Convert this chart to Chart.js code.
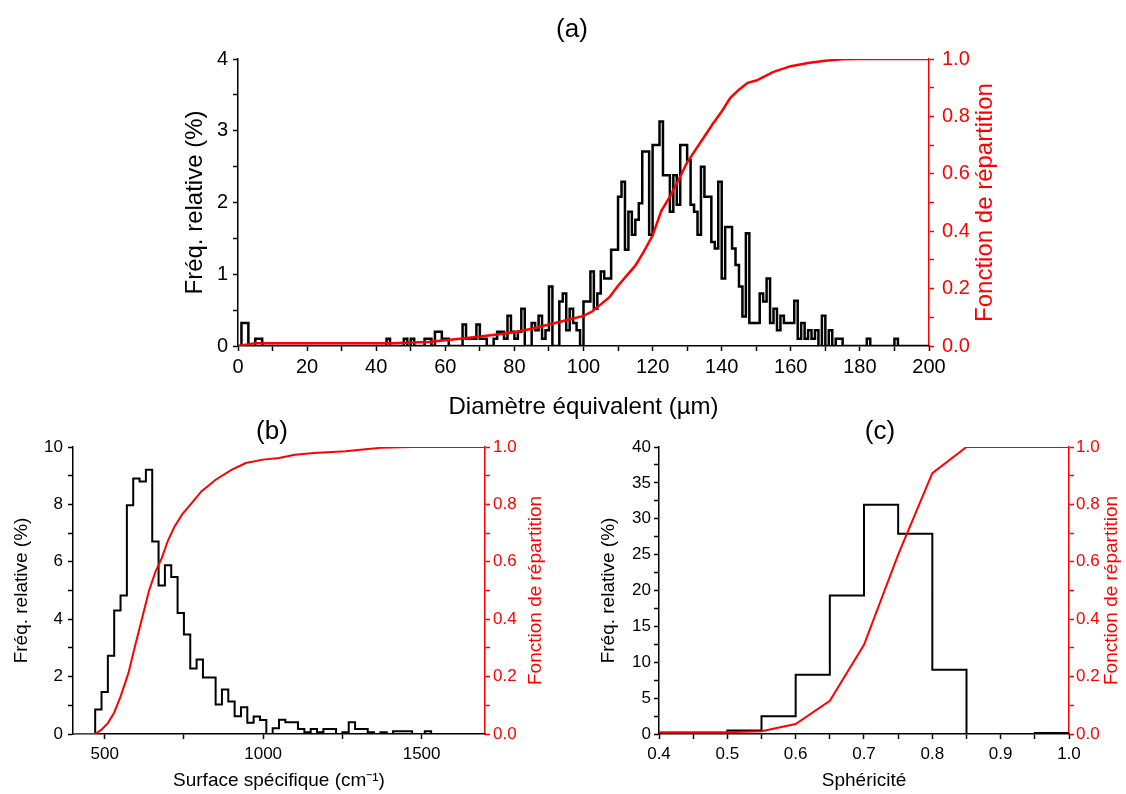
<!DOCTYPE html>
<html lang="fr">
<head>
<meta charset="utf-8">
<title>Distributions granulométriques</title>
<script src="https://cdn.jsdelivr.net/npm/chart.js@4.4.1/dist/chart.umd.min.js"></script>
<style>
  html, body { margin: 0; padding: 0; background: #fff; }
  #page { position: relative; width: 1126px; height: 794px; overflow: hidden; background: #fff; }
  canvas { position: absolute; }
</style>
</head>
<body>
<div id="page">
  <canvas id="chartA" width="852" height="430" style="left:146px;top:0px"></canvas>
  <canvas id="chartB" width="560" height="394" style="left:0px;top:400px"></canvas>
  <canvas id="chartC" width="546" height="394" style="left:580px;top:400px"></canvas>
</div>
<script>
// (a) Diamètre équivalent : classes de 1 µm à partir de 0
const diamBinStart = 0;
const diamBinWidth = 1;
const diamFreq = [
  0, 0.32, 0.32, 0, 0, 0.1, 0.1, 0, 0, 0,
  0, 0, 0, 0, 0, 0, 0, 0, 0, 0,
  0, 0, 0, 0, 0, 0, 0, 0, 0, 0,
  0, 0, 0, 0, 0, 0, 0, 0, 0, 0,
  0, 0, 0, 0.1, 0, 0, 0, 0, 0.1, 0,
  0.1, 0, 0, 0, 0.1, 0.1, 0, 0.2, 0.2, 0.1,
  0.1, 0, 0, 0, 0, 0.3, 0.1, 0.1, 0.1, 0.3,
  0.1, 0.1, 0, 0, 0.1, 0.2, 0.2, 0.1, 0.42, 0.2,
  0.1, 0.2, 0.52, 0, 0, 0.32, 0.22, 0.42, 0.1, 0.22,
  0.83, 0, 0, 0.62, 0.73, 0.22, 0.52, 0.32, 0.22, 0,
  0.62, 0.62, 1.04, 0.52, 0.73, 1.04, 0.94, 0.94, 1.34, 1.34,
  2.08, 2.29, 1.34, 1.87, 1.55, 1.76, 1.99, 2.71, 2.71, 1.55,
  2.80, 2.80, 3.13, 2.38, 2.38, 1.87, 2.38, 1.97, 2.80, 2.80,
  2.59, 1.97, 1.87, 1.55, 2.50, 2.08, 2.08, 1.45, 1.36, 2.29,
  0.94, 1.66, 1.66, 1.36, 1.13, 0.83, 0.41, 1.57, 0.32, 0.32,
  0.32, 0.73, 0.62, 0.94, 0.32, 0.52, 0.22, 0.42, 0.32, 0.32,
  0.32, 0.63, 0.1, 0.32, 0.1, 0.22, 0.1, 0.22, 0, 0.42,
  0, 0.22, 0, 0.1, 0.1, 0, 0, 0, 0, 0,
  0, 0, 0.1, 0, 0, 0, 0, 0, 0, 0,
  0.1, 0, 0, 0, 0, 0, 0, 0, 0, 0
];
const diamCdfX = [0, 5, 10, 20, 30, 40, 45, 50, 55, 60, 65, 70, 75, 80, 85, 90, 95, 100,
  102.5, 105, 107.5, 110, 112.5, 115, 117.5, 120, 122.5, 125, 127.5, 130, 132.5, 135,
  137.5, 140, 142.5, 145, 147.5, 150, 155, 160, 165, 170, 175, 180, 190, 200];
const diamCdf = [0, 0.01, 0.01, 0.01, 0.01, 0.01, 0.01, 0.012, 0.014, 0.02, 0.026, 0.033, 0.04, 0.048, 0.06, 0.075, 0.09, 0.105,
  0.12, 0.145, 0.17, 0.21, 0.245, 0.28, 0.33, 0.385, 0.47, 0.52, 0.578, 0.64, 0.685, 0.73,
  0.775, 0.817, 0.865, 0.893, 0.917, 0.925, 0.955, 0.975, 0.986, 0.994, 0.999, 1.0, 1.0, 1.0];
const diamTicksX = [0, 20, 40, 60, 80, 100, 120, 140, 160, 180, 200];
const diamTicksY = [0, 1, 2, 3, 4];

// (b) Surface spécifique : classes de 20 cm-1 à partir de 470
const surfBinStart = 470;
const surfBinWidth = 20;
const surfFreq = [
  0.85, 1.46, 2.73, 4.30, 4.83, 7.97, 8.90, 8.80, 9.21, 6.71,
  5.17, 5.88, 5.47, 4.22, 3.47, 2.28, 2.60, 1.97, 1.97, 1.03,
  1.55, 1.13, 0.62, 0.93, 0.39, 0.61, 0.49, 0, 0.2, 0.5,
  0.41, 0.41, 0.17, 0.06, 0.17, 0.06, 0.17, 0.17, 0, 0.06,
  0.41, 0.17, 0.17, 0.06, 0, 0.06, 0, 0.1, 0.1, 0.1,
  0, 0, 0.1
];
const surfCdfX = [400, 470, 490, 510, 530, 550, 575, 595, 615, 640, 660, 680, 700, 720, 745,
  775, 805, 850, 900, 945, 1000, 1050, 1100, 1160, 1260, 1315, 1370, 1470, 1700];
const surfCdf = [0, 0, 0.015, 0.038, 0.075, 0.13, 0.213, 0.303, 0.39, 0.5, 0.565, 0.613, 0.675, 0.722, 0.766,
  0.805, 0.845, 0.886, 0.92, 0.944, 0.956, 0.962, 0.973, 0.979, 0.985, 0.991, 0.997, 1.0, 1.0];
const surfTicksX = [500, 1000, 1500];
const surfTicksY = [0, 2, 4, 6, 8, 10];

// (c) Sphéricité : classes de 0,05 à partir de 0,4
const spheBinStart = 0.4;
const spheBinWidth = 0.05;
const spheFreq = [0, 0, 0.5, 2.46, 8.27, 19.3, 31.95, 27.9, 8.96, 0, 0, 0.14];
const spheCdfX = [0.4, 0.45, 0.5, 0.55, 0.6, 0.65, 0.7, 0.75, 0.8, 0.85, 0.9, 0.95, 1.0];
const spheCdf = [0.006, 0.006, 0.006, 0.01, 0.035, 0.116, 0.311, 0.625, 0.909, 1.0, 1.0, 1.0, 1.0];
const spheTicksX = [0.4, 0.5, 0.6, 0.7, 0.8, 0.9, 1.0];
const spheTicksY = [0, 5, 10, 15, 20, 25, 30, 35, 40];

const cdfTicks = [0, 0.2, 0.4, 0.6, 0.8, 1.0];

const RED = '#ff0000';
const FONT = "'Liberation Sans', Arial, Helvetica, sans-serif";

// graduations principales + une secondaire au milieu de chaque intervalle
function withMinor(major) {
  const all = [];
  major.forEach((v, i) => {
    all.push({ value: v, major: true });
    if (i < major.length - 1) all.push({ value: (v + major[i + 1]) / 2, major: false });
  });
  return all;
}

// histogramme en escalier à partir des classes
function stepPoints(start, width, values, xmin, xmax) {
  const pts = [{ x: xmin, y: 0 }, { x: start, y: 0 }];
  values.forEach((v, i) => {
    pts.push({ x: start + i * width, y: v }, { x: start + (i + 1) * width, y: v });
  });
  const end = start + values.length * width;
  pts.push({ x: end, y: 0 }, { x: xmax, y: 0 });
  return pts;
}

function zipPoints(xs, ys) {
  return xs.map((x, i) => ({ x: x, y: ys[i] }));
}

// lettre du panneau + titre de l'axe de droite (lu de bas en haut)
const panelText = {
  id: 'panelText',
  afterDraw(chart, args, opts) {
    const ctx = chart.ctx;
    const area = chart.chartArea;
    ctx.save();
    ctx.fillStyle = '#000';
    ctx.font = opts.letterSize + 'px ' + FONT;
    ctx.textAlign = 'center';
    ctx.textBaseline = 'middle';
    ctx.fillText(opts.letter, opts.letterX, opts.letterY);

    const yr = chart.scales.yR;
    ctx.translate(yr.right - opts.rightOffset, (area.top + area.bottom) / 2);
    ctx.rotate(-Math.PI / 2);
    ctx.fillStyle = RED;
    ctx.font = opts.titleSize + 'px ' + FONT;
    ctx.fillText('Fonction de répartition', 0, 0);
    ctx.restore();
  }
};

function buildChart(id, p) {
  const font = { family: FONT, size: p.tickSize };
  const titleFont = { family: FONT, size: p.titleSize };
  return new Chart(document.getElementById(id), {
    type: 'line',
    data: {
      datasets: [
        { data: p.cdf, yAxisID: 'yR', borderColor: RED, borderWidth: p.cdfWidth, order: 0 },
        { data: p.hist, yAxisID: 'y', borderColor: '#000', borderWidth: p.histWidth, order: 1 }
      ]
    },
    options: {
      responsive: false,
      animation: false,
      devicePixelRatio: 1,
      elements: {
        point: { radius: 0 },
        line: { tension: 0, borderJoinStyle: 'miter', borderCapStyle: 'butt' }
      },
      layout: { padding: { top: p.top, left: 0, right: 0, bottom: 0 } },
      plugins: {
        legend: { display: false },
        tooltip: { enabled: false },
        panelText: {
          letter: p.letter, letterX: p.letterX, letterY: p.letterY, letterSize: p.letterSize,
          rightOffset: p.rightOffset, titleSize: p.titleSize
        }
      },
      scales: {
        x: {
          type: 'linear', position: 'bottom', min: p.xMin, max: p.xMax,
          grid: { drawOnChartArea: false, color: '#000', tickLength: 5, tickWidth: 1.5 },
          border: { color: '#000', width: 1.5 },
          ticks: {
            autoSkip: false, maxRotation: 0, color: '#000', padding: p.xPad, font: font,
            callback: (v, i, t) => t[i].major ? p.xFmt(v) : ''
          },
          afterBuildTicks: s => { s.ticks = withMinor(p.xTicks); },
          afterFit: s => { s.height = p.xHeight; s.paddingLeft = 0; s.paddingRight = 0; },
          title: {
            display: true, text: p.xTitle, color: '#000', font: titleFont,
            padding: { top: 0, bottom: p.xTitlePad }
          }
        },
        y: {
          type: 'linear', position: 'left', min: 0, max: p.yMax,
          grid: { drawOnChartArea: false, color: '#000', tickLength: 5, tickWidth: 1.5 },
          border: { color: '#000', width: 1.5 },
          ticks: {
            autoSkip: false, color: '#000', padding: p.yPad, font: font,
            callback: (v, i, t) => t[i].major ? String(v) : ''
          },
          afterBuildTicks: s => { s.ticks = withMinor(p.yTicks); },
          afterFit: s => { s.width = p.leftWidth; s.paddingTop = 0; s.paddingBottom = 0; },
          title: {
            display: true, text: 'Fréq. relative (%)', color: '#000', font: titleFont,
            padding: { top: p.yTitlePad, bottom: 0 }
          }
        },
        yR: {
          type: 'linear', position: 'right', min: 0, max: 1,
          grid: { drawOnChartArea: false, color: RED, tickLength: 5, tickWidth: 1.5 },
          border: { color: RED, width: 1.5 },
          ticks: {
            autoSkip: false, color: RED, padding: p.rPad, font: font,
            callback: (v, i, t) => t[i].major ? v.toFixed(1) : ''
          },
          afterBuildTicks: s => { s.ticks = withMinor(cdfTicks); },
          afterFit: s => { s.width = p.rightWidth; s.paddingTop = 0; s.paddingBottom = 0; }
        }
      }
    },
    plugins: [panelText]
  });
}

buildChart('chartA', {
  hist: stepPoints(diamBinStart, diamBinWidth, diamFreq, 0, 200),
  cdf: zipPoints(diamCdfX, diamCdf),
  histWidth: 2.5, cdfWidth: 2.5,
  xMin: 0, xMax: 200, xTicks: diamTicksX, xFmt: v => String(v),
  yMax: 4, yTicks: diamTicksY,
  xTitle: 'Diamètre équivalent (µm)',
  top: 59, leftWidth: 92, rightWidth: 69, xHeight: 84,
  tickSize: 20, titleSize: 24, xPad: 4, yPad: 5, rPad: 8,
  yTitlePad: 34.6, xTitlePad: 8.6,
  letter: '(a)', letterX: 426, letterY: 30, letterSize: 26, rightOffset: 13
});

buildChart('chartB', {
  hist: stepPoints(surfBinStart, surfBinWidth, surfFreq, 400, 1700),
  cdf: zipPoints(surfCdfX, surfCdf),
  histWidth: 2, cdfWidth: 2,
  xMin: 400, xMax: 1700, xTicks: surfTicksX, xFmt: v => String(v),
  yMax: 10, yTicks: surfTicksY,
  xTitle: 'Surface spécifique (cm⁻¹)',
  top: 47, leftWidth: 73, rightWidth: 75, xHeight: 60,
  tickSize: 17, titleSize: 19, xPad: 5, yPad: 5, rPad: 3,
  yTitlePad: 10.6, xTitlePad: 1.6,
  letter: '(b)', letterX: 272, letterY: 32, letterSize: 26, rightOffset: 24
});

buildChart('chartC', {
  hist: stepPoints(spheBinStart, spheBinWidth, spheFreq, 0.4, 1.0),
  cdf: zipPoints(spheCdfX, spheCdf),
  histWidth: 2, cdfWidth: 2,
  xMin: 0.4, xMax: 1.0, xTicks: spheTicksX, xFmt: v => v.toFixed(1),
  yMax: 40, yTicks: spheTicksY,
  xTitle: 'Sphéricité',
  top: 47, leftWidth: 79, rightWidth: 57, xHeight: 60,
  tickSize: 17, titleSize: 19, xPad: 5, yPad: 3, rPad: 2,
  yTitlePad: 17.6, xTitlePad: 1.6,
  letter: '(c)', letterX: 300, letterY: 32, letterSize: 26, rightOffset: 14
});
</script>
</body>
</html>
